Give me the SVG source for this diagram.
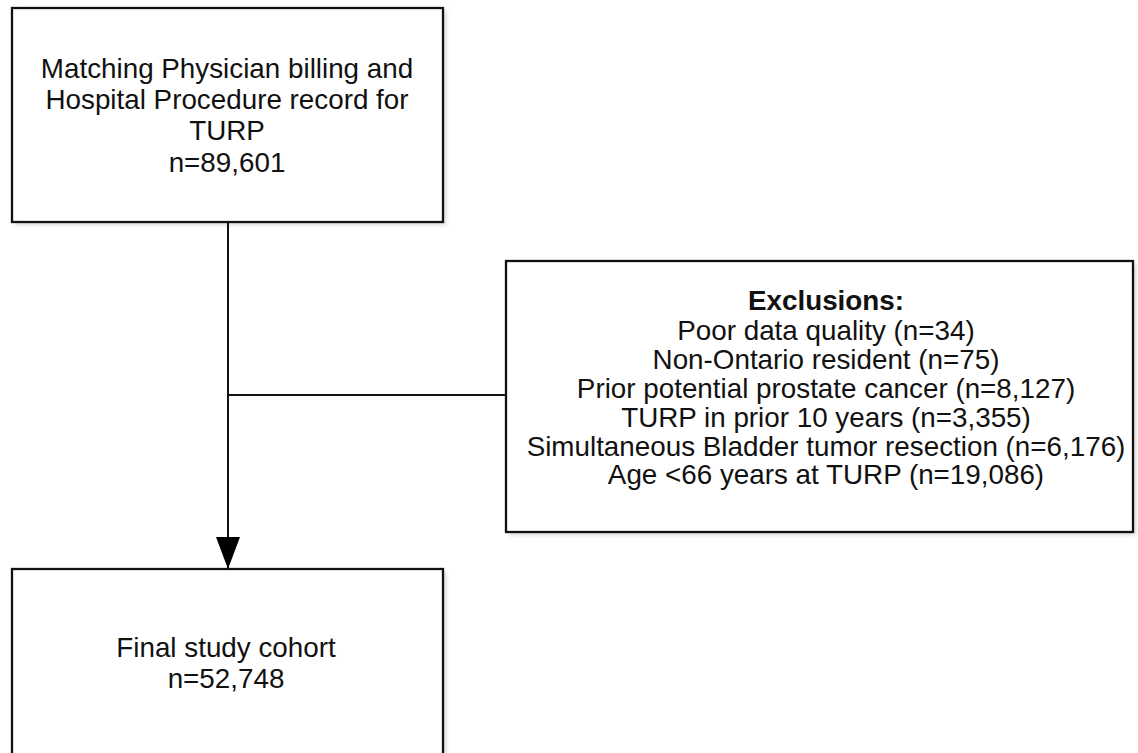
<svg xmlns="http://www.w3.org/2000/svg" width="1138" height="753" viewBox="0 0 1138 753">
<defs>
<style>
.box{fill:#fff;stroke:#111;stroke-width:2.3}
.sh{fill:#bbb;opacity:0.6}
.t{font-family:"Liberation Sans",Arial,sans-serif;font-size:27.8px;fill:#111;text-anchor:middle}
.b{font-weight:bold}
.ln{stroke:#111;stroke-width:2;fill:none}
</style>
<filter id="blur" x="-5%" y="-5%" width="110%" height="110%"><feGaussianBlur stdDeviation="2"/></filter>
<marker id="arr" viewBox="0 0 32 24" markerWidth="32" markerHeight="24" refX="32" refY="12" orient="auto" markerUnits="userSpaceOnUse">
<path d="M0,0 L32,12 L0,24 Z" fill="#000"/>
</marker>
</defs>
<rect width="1138" height="753" fill="#fff"/>
<g id="node-start">
<rect class="sh" x="15" y="11" width="431" height="214" filter="url(#blur)"/>
<rect class="box" x="12" y="8" width="431" height="214"/>
<text class="t" x="227" y="78">Matching Physician billing and</text>
<text class="t" x="227" y="109">Hospital Procedure record for</text>
<text class="t" x="227" y="140">TURP</text>
<text class="t" x="227" y="172">n=89,601</text>
</g>
<g id="node-exclusions">
<rect class="sh" x="509" y="264" width="627" height="271" filter="url(#blur)"/>
<rect class="box" x="506" y="261" width="627" height="271"/>
<text class="t b" x="826" y="310">Exclusions:</text>
<text class="t" x="826" y="340">Poor data quality (n=34)</text>
<text class="t" x="826" y="369">Non-Ontario resident (n=75)</text>
<text class="t" x="826" y="398">Prior potential prostate cancer (n=8,127)</text>
<text class="t" x="826" y="427">TURP in prior 10 years (n=3,355)</text>
<text class="t" x="826" y="456">Simultaneous Bladder tumor resection (n=6,176)</text>
<text class="t" x="826" y="484">Age &lt;66 years at TURP (n=19,086)</text>
</g>
<g id="node-final">
<rect class="sh" x="15" y="572" width="431" height="200" filter="url(#blur)"/>
<rect class="box" x="12" y="569" width="431" height="200"/>
<text class="t" x="226" y="657">Final study cohort</text>
<text class="t" x="226" y="688">n=52,748</text>
</g>
<g id="connectors">
<line class="ln" x1="228" y1="222" x2="228" y2="569" marker-end="url(#arr)"/>
<line class="ln" x1="228" y1="395" x2="506" y2="395"/>
</g>
</svg>
